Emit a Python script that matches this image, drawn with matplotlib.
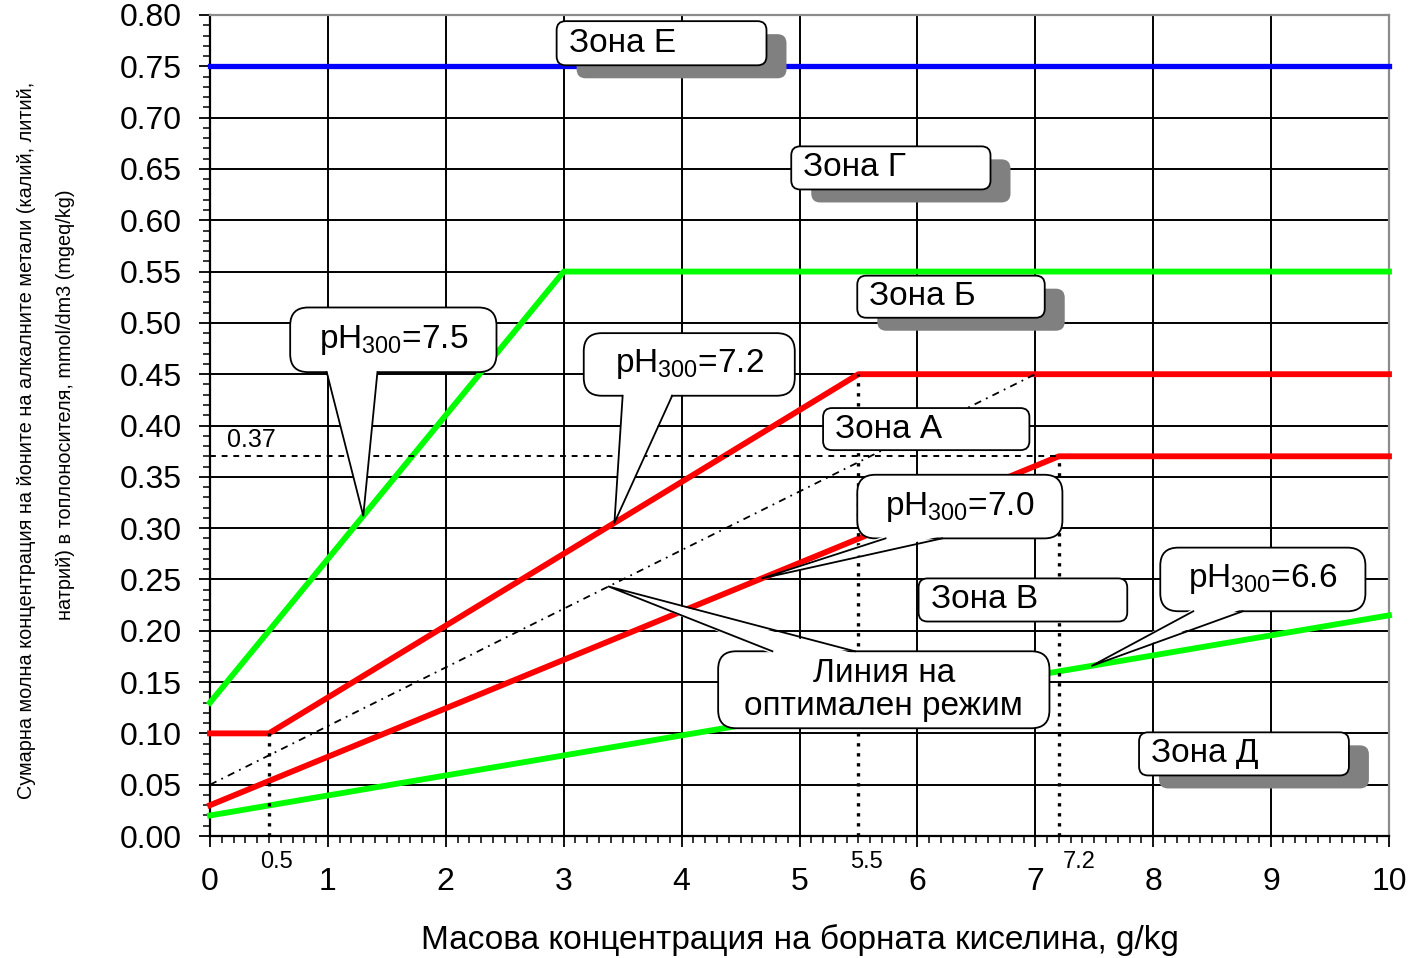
import numpy as np
import matplotlib
matplotlib.use('Agg')
from matplotlib import pyplot as plt
from matplotlib.patches import FancyBboxPatch, Polygon
from matplotlib.lines import Line2D
from matplotlib.transforms import IdentityTransform

plt.rcParams['font.family'] = ['Liberation Sans', 'DejaVu Sans']
plt.rcParams['mathtext.default'] = 'regular'

# данни (g/kg -> mmol/dm3)
zone_e_x = [0, 10]
zone_e_y = [0.75, 0.75]
ph75_x = [0, 3, 10]
ph75_y = [0.13, 0.55, 0.55]
ph72_x = [0, 0.5, 5.5, 10]
ph72_y = [0.10, 0.10, 0.45, 0.45]
ph70_x = [0, 7.2, 10]
ph70_y = [0.03, 0.37, 0.37]
ph66_x = [0, 10]
ph66_y = [0.02, 0.215]
opt_x = [0, 7]
opt_y = [0.05, 0.45]
# помощни линии
guide_x = [0.5, 5.5, 7.2]
guide_top = [0.10, 0.45, 0.37]
guide_level = 0.37
guide_level_end = 7.2

x_ticks = list(range(0, 11))
y_ticks = np.arange(0, 0.81, 0.05)
extra_x_labels = ['0.5', '5.5', '7.2']

fig = plt.figure(figsize=(14.14, 9.58), dpi=100)
ax = fig.add_axes([210 / 1414, 122 / 958, 1179 / 1414, 821 / 958])
ax.set_xlim(0, 10)
ax.set_ylim(0, 0.8)

# мрежа и оси
ax.set_xticks(x_ticks)
ax.set_xticklabels([str(v) for v in x_ticks])
ax.set_yticks(y_ticks)
ax.set_yticklabels(['%.2f' % v for v in y_ticks])
ax.set_xticks(np.arange(0, 10.01, 0.1), minor=True)
ax.set_yticks(np.arange(0, 0.801, 0.01), minor=True)
ax.tick_params(which='major', direction='out', length=8, width=1.3, labelsize=23)
ax.tick_params(which='minor', direction='out', length=5, width=1.1)
ax.tick_params(axis='x', which='major', pad=14)
ax.tick_params(axis='y', which='major', pad=12)
ax.grid(which='major', color='black', lw=1.4, zorder=1)
ax.set_axisbelow(True)
for s in ['left', 'bottom']:
    ax.spines[s].set_linewidth(1.6)
    ax.spines[s].set_color('black')
for s in ['top', 'right']:
    ax.spines[s].set_linewidth(1.6)
    ax.spines[s].set_color('#8c8c8c')

# линии
ax.plot(zone_e_x, zone_e_y, color='#0000ff', lw=3.8, zorder=3, clip_on=False)
ax.plot(ph75_x, ph75_y, color='#00ff00', lw=4.2, zorder=3, clip_on=False)
ax.plot(ph72_x, ph72_y, color='#ff0000', lw=4.2, zorder=3, clip_on=False)
ax.plot(ph70_x, ph70_y, color='#ff0000', lw=4.2, zorder=3, clip_on=False)
ax.plot(ph66_x, ph66_y, color='#00ff00', lw=4.2, zorder=3, clip_on=False)
ax.plot(opt_x, opt_y, color='black', lw=1.3, ls=(0, (4, 3, 1, 3)), zorder=3)

# пунктирни помощни линии
for gx, gt in zip(guide_x, guide_top):
    ax.plot([gx, gx], [0, gt], color='black', lw=2.4, ls=(0, (1, 2)), zorder=3)
ax.plot([0, guide_level_end], [guide_level, guide_level], color='black', lw=1.4,
        ls=(0, (3, 3)), zorder=3)
ax.text(0.14, guide_level + 0.016, '%.2f' % guide_level, fontsize=18, va='center', ha='left')

offs = [8, 8, 20]
for gx, lbl, o in zip(guide_x, extra_x_labels, offs):
    ax.annotate(lbl, (gx, 0), xytext=(o, -26), textcoords='offset pixels',
                ha='center', va='center', fontsize=17, annotation_clip=False)

ax.set_xlabel('Масова концентрация на борната киселина, g/kg', fontsize=24, labelpad=20)
fig.text(27 / 1414, 1 - 440 / 958,
         'Сумарна молна концентрация на йоните на алкалните метали (калий, литий,',
         rotation=90, ha='center', va='center', fontsize=14.3,
         family=['Liberation Sans Narrow', 'Liberation Sans', 'DejaVu Sans'])
fig.text(66 / 1414, 1 - 405 / 958,
         'натрий) в топлоносителя, mmol/dm3 (mgeq/kg)',
         rotation=90, ha='center', va='center', fontsize=14.3,
         family=['Liberation Sans Narrow', 'Liberation Sans', 'DejaVu Sans'])

ID = IdentityTransform()


def to_px(x, y):
    return ax.transData.transform((x, y))


def zone_box(text, box, shadow=True, fs=24):
    x0, y0 = to_px(box[0], box[1])
    x1, y1 = to_px(box[2], box[3])
    if shadow:
        ax.add_patch(FancyBboxPatch((x0 + 20, y0 - 13), x1 - x0, y1 - y0,
                                    boxstyle='round,pad=0,rounding_size=9', transform=ID,
                                    fc='#808080', ec='none', zorder=5, clip_on=False))
    ax.add_patch(FancyBboxPatch((x0, y0), x1 - x0, y1 - y0,
                                boxstyle='round,pad=0,rounding_size=9', transform=ID,
                                fc='white', ec='black', lw=1.3, zorder=6, clip_on=False))
    ax.text(x0 + 12, (y0 + y1) / 2, text, transform=ID, ha='left', va='center',
            fontsize=fs, zorder=8)


def callout(text, box, base, tip_x, line_x, line_y, top=False, fs=24):
    x0, y0 = to_px(box[0], box[1])
    x1, y1 = to_px(box[2], box[3])
    ax.add_patch(FancyBboxPatch((x0, y0), x1 - x0, y1 - y0,
                                boxstyle='round,pad=0,rounding_size=18', transform=ID,
                                fc='white', ec='black', lw=1.3, zorder=6, clip_on=False))
    tx, ty = to_px(tip_x, np.interp(tip_x, line_x, line_y))
    ya = y1 if top else y0
    inner = -2.5 if top else 2.5
    xa = to_px(base[0], 0)[0]
    xb = to_px(base[1], 0)[0]
    ax.add_patch(Polygon([(xa, ya + inner), (tx, ty), (xb, ya + inner)], closed=True,
                         fc='white', ec='none', transform=ID, zorder=7, clip_on=False))
    ax.add_line(Line2D([xa, tx, xb], [ya, ty, ya], color='black', lw=1.3,
                       transform=ID, zorder=7, clip_on=False))
    ax.text((x0 + x1) / 2, (y0 + y1) / 2, text, transform=ID, ha='center', va='center',
            fontsize=fs, zorder=8, linespacing=1.1)


# зони
zone_box('Зона Е', (2.94, 0.751, 4.72, 0.794))
zone_box('Зона Г', (4.93, 0.630, 6.62, 0.672))
zone_box('Зона Б', (5.49, 0.505, 7.08, 0.546))
zone_box('Зона А', (5.20, 0.376, 6.95, 0.417), shadow=False)
zone_box('Зона В', (6.01, 0.209, 7.78, 0.251), shadow=False)
zone_box('Зона Д', (7.88, 0.059, 9.66, 0.101))

# износки
callout('pH$_{300}$=7.5', (0.68, 0.452, 2.43, 0.515), (0.99, 1.42), 1.30, ph75_x, ph75_y)
callout('pH$_{300}$=7.2', (3.17, 0.429, 4.96, 0.490), (3.50, 3.92), 3.43, ph72_x, ph72_y)
callout('pH$_{300}$=7.0', (5.49, 0.290, 7.23, 0.352), (5.73, 6.21), 4.68, ph70_x, ph70_y)
callout('pH$_{300}$=6.6', (8.06, 0.219, 9.80, 0.281), (8.34, 8.76), 7.48, ph66_x, ph66_y)
callout('Линия на\nоптимален режим', (4.31, 0.105, 7.12, 0.180), (4.77, 5.47), 3.38,
        opt_x, opt_y, top=True)

fig.savefig('out.png', dpi=100)
